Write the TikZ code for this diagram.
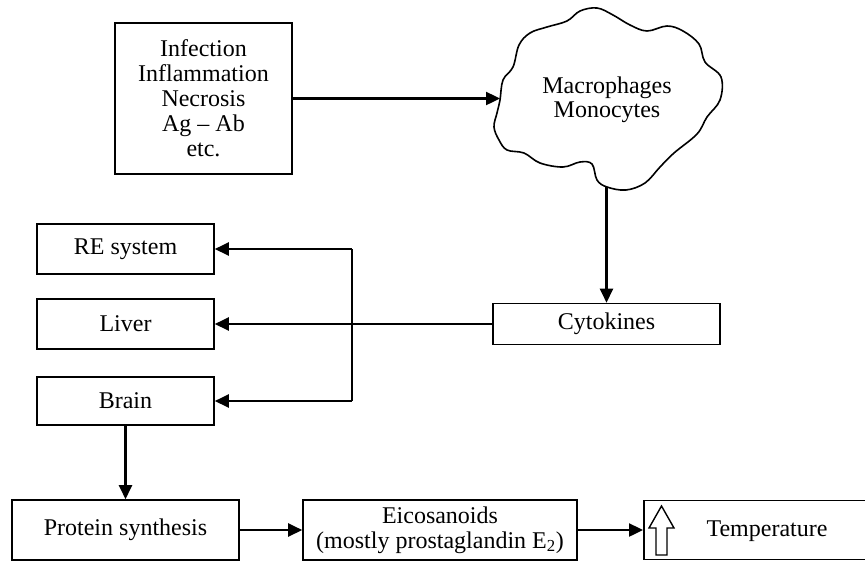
\documentclass[tikz,border=0pt]{standalone}
\usepackage{fontspec}
\setmainfont{Liberation Serif}
\usetikzlibrary{arrows.meta}
\begin{document}
\begin{tikzpicture}[x=1pt,y=-1pt,
  box/.style={draw,line width=1.6pt,inner sep=0pt,align=center,font=\fontsize{24}{25}\selectfont},
  lbl/.style={inner sep=0pt,align=center,font=\fontsize{24}{24.5}\selectfont},
  arr/.style={line width=2.4pt,-{Triangle[length=14pt,width=13pt]}},
  ln/.style={line width=2.4pt}]
\clip (0,0) rectangle (865,563);
\fill[white] (0,0) rectangle (865,563);
% top
\node[box,minimum width=177pt,minimum height=151pt] (inf) at (203.5,98.5) {Infection\\Inflammation\\Necrosis\\Ag -- Ab\\etc.};
\draw[line width=1.6pt] plot[smooth cycle,tension=0.6] coordinates {(500,100) (503,80) (513,67) (519,45) (530,33) (547,27) (567,21) (580,11) (597,8) (613,15) (630,25) (647,31) (667,26) (683,31) (699,44) (705,62) (721,77) (720,100) (707,117) (697,134) (674,153) (660,167) (645,183) (626,190) (607,187) (597,180) (592,164) (580,162) (563,167) (540,163) (524,153) (507,150) (499,140) (494,127) (497,113)};
\node[lbl] (mac) at (607,100) {Macrophages\\Monocytes};
\coordinate (cloudw) at (500,98.5);
\coordinate (clouds) at (606.5,187);
\node[box,minimum width=227pt,minimum height=41pt] (cyt) at (606.5,324) {Cytokines};
% left column
\node[box,minimum width=177pt,minimum height=50pt] (re) at (125.5,249) {RE system};
\node[box,minimum width=177pt,minimum height=50pt] (liv) at (125.5,324) {Liver};
\node[box,minimum width=177pt,minimum height=48pt] (br) at (125.5,401) {Brain};
\coordinate (jt) at (352,249);
\coordinate (jb) at (352,401);
% bottom row
\node[box,minimum width=227pt,minimum height=60pt] (pr) at (125.5,530) {Protein synthesis};
\node[box,minimum width=274pt,minimum height=60pt] (eic) at (440,530) {Eicosanoids\\(mostly prostaglandin E\textsubscript{2})};
\node[box,minimum width=250pt,minimum height=59pt,anchor=west] (tmp) at (643,530) {};
\node[lbl] (tt) at (767,531) {Temperature};
\draw[line width=1.4pt] (661.5,506) -- (674,528) -- (667,528) -- (667,555) -- (656,555) -- (656,528) -- (649,528) -- cycle;
% connectors
\draw[arr] (inf.east |- cloudw) -- (cloudw);
\draw[arr] (clouds) -- (cyt.north);
\draw[arr] (cyt.west) -- (liv.east);
\draw[arr] (jt) -- (re.east);
\draw[ln] (jt) -- (jb);
\draw[arr] (jb) -- (br.east);
\draw[arr] (br.south) -- (pr.north);
\draw[arr] (pr.east) -- (eic.west);
\draw[arr] (eic.east) -- (tmp.west);
\end{tikzpicture}
\end{document}
